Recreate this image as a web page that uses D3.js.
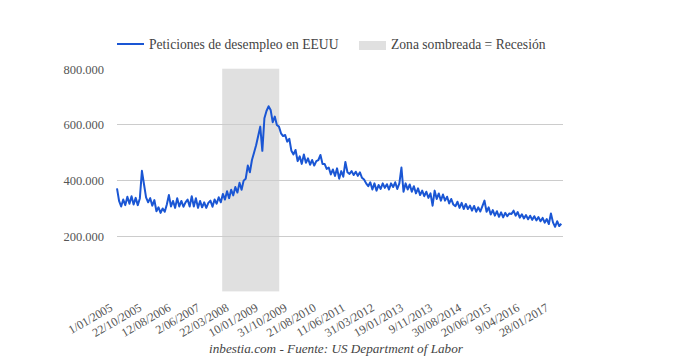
<!DOCTYPE html>
<html><head><meta charset="utf-8">
<script src="https://cdn.jsdelivr.net/npm/d3@7"></script>
<style>body{margin:0;background:#fff}svg{display:block}</style>
</head><body>
<svg id="c" width="680" height="360"></svg>
<script>
// weekly claims sampled every 3 weeks starting week ending 1/01/2005 (thousands)
const startDate = "2005-01-01";
const stepWeeks = 3;
const claims = [
370,325,305,330,310,340,315,342,312,336,310,334,433,385,338,320,335,308,328,288,
302,282,298,286,312,346,305,325,300,335,305,325,304,320,330,305,342,305,335,300,
325,302,320,300,318,326,304,330,315,338,320,350,330,360,335,365,345,375,355,390,
365,398,405,452,428,472,498,525,558,592,505,622,648,665,652,608,628,598,592,568,
558,562,538,548,505,492,508,468,485,458,492,462,478,455,472,452,468,472,490,458,
458,440,445,420,438,415,442,405,432,412,465,428,422,432,418,430,415,428,408,402,
388,378,392,366,388,362,382,368,388,372,385,366,388,375,392,368,388,445,358,388,
366,384,358,378,352,370,346,362,342,358,336,352,308,362,332,352,326,348,326,340,
316,332,312,306,322,300,318,296,314,296,308,290,307,286,302,287,306,326,286,302,
276,292,272,288,268,284,266,282,270,280,278,290,272,285,265,277,262,274,259,272,
257,270,255,267,252,264,247,260,242,280,248,232,252,235,243
];
const xLabels = ["1/01/2005","22/10/2005","12/08/2006","2/06/2007","22/03/2008","10/01/2009",
"31/10/2009","21/08/2010","11/06/2011","31/03/2012","19/01/2013","9/11/2013",
"30/08/2014","20/06/2015","9/04/2016","28/01/2017"];
const yTicks = [200000,400000,600000,800000];
const yGrid = [200000,400000,600000];
const recession = ["2007-12-01","2009-06-30"];
const seriesName = "Peticiones de desempleo en EEUU";
const shadeName = "Zona sombreada = Recesión";
const footer = "inbestia.com - Fuente: US Department of Labor";

const svg = d3.select("#c");
const serif = "Liberation Serif, Times New Roman, serif";
const parseISO = d3.utcParse("%Y-%m-%d");
const parseLbl = s => { const [d,m,y] = s.split("/").map(Number); return new Date(Date.UTC(y,m-1,d)); };
const t0 = parseISO(startDate);
const data = claims.map((v,i) => ({date: d3.utcDay.offset(t0, 7*stepWeeks*i), value: v*1000}));

const x = d3.scaleUtc().domain([t0, d3.utcDay.offset(t0, 7*642)]).range([117, 561.3]);
const y = d3.scaleLinear().domain([0, 800000]).range([291.4, 68.7]);
const fmt = d3.formatLocale({decimal:",", thousands:".", grouping:[3], currency:["","€"]}).format(",d");

// recession band
svg.append("rect")
  .attr("x", x(parseISO(recession[0])))
  .attr("width", x(parseISO(recession[1])) - x(parseISO(recession[0])))
  .attr("y", y(800000)).attr("height", y(0) - y(800000))
  .attr("fill", "#e0e0e0");

// gridlines
svg.append("g").selectAll("line").data(yGrid).join("line")
  .attr("x1", 117).attr("x2", 563)
  .attr("y1", d => Math.round(y(d)) + 0.5).attr("y2", d => Math.round(y(d)) + 0.5)
  .attr("stroke", "#cccccc").attr("stroke-width", 1);

// y axis labels
const yAxis = d3.axisLeft(y).tickValues(yTicks).tickFormat(fmt).tickSize(0).tickPadding(0);
const gy = svg.append("g").attr("transform", "translate(104,0)").call(yAxis)
  .attr("font-family", null).attr("font-size", null);
gy.select(".domain").remove();
gy.selectAll("text").style("font-family", serif).style("font-size", "12.5px").attr("fill", "#555").attr("dy", "0.35em");

// x axis labels
const xAxis = d3.axisBottom(x).tickValues(xLabels.map(parseLbl)).tickFormat((d,i) => xLabels[i]).tickSize(0).tickPadding(0);
const gx = svg.append("g").call(xAxis).attr("font-family", null).attr("font-size", null);
gx.select(".domain").remove();
gx.selectAll(".tick").attr("transform", d => `translate(${x(d) - 3.5},310)`);
gx.selectAll("text").style("font-family", serif).style("font-size", "12px").attr("fill", "#555")
  .attr("y", 0).attr("dy", 0).attr("text-anchor", "end").attr("transform", "rotate(-30)");

// line
const line = d3.line().x(d => x(d.date)).y(d => y(d.value));
svg.append("path").datum(data).attr("d", line)
  .attr("fill", "none").attr("stroke", "#1a56d4").attr("stroke-width", 2).attr("stroke-linejoin", "round");

// legend
const lg = svg.append("g").style("font-family", serif).style("font-size", "13.6px").attr("fill", "#444");
lg.append("line").attr("x1", 117).attr("x2", 144).attr("y1", 44).attr("y2", 44)
  .attr("stroke", "#1a56d4").attr("stroke-width", 2);
lg.append("text").attr("x", 149).attr("y", 49).text(seriesName);
lg.append("rect").attr("x", 359).attr("y", 41).attr("width", 27).attr("height", 9).attr("fill", "#e0e0e0");
lg.append("text").attr("x", 391).attr("y", 49).text(shadeName);

// footer
svg.append("text").attr("x", 336).attr("y", 353).attr("text-anchor", "middle")
  .style("font-family", serif).style("font-style", "italic").style("font-size", "13.2px").attr("fill", "#444")
  .text(footer);
</script>
</body></html>
